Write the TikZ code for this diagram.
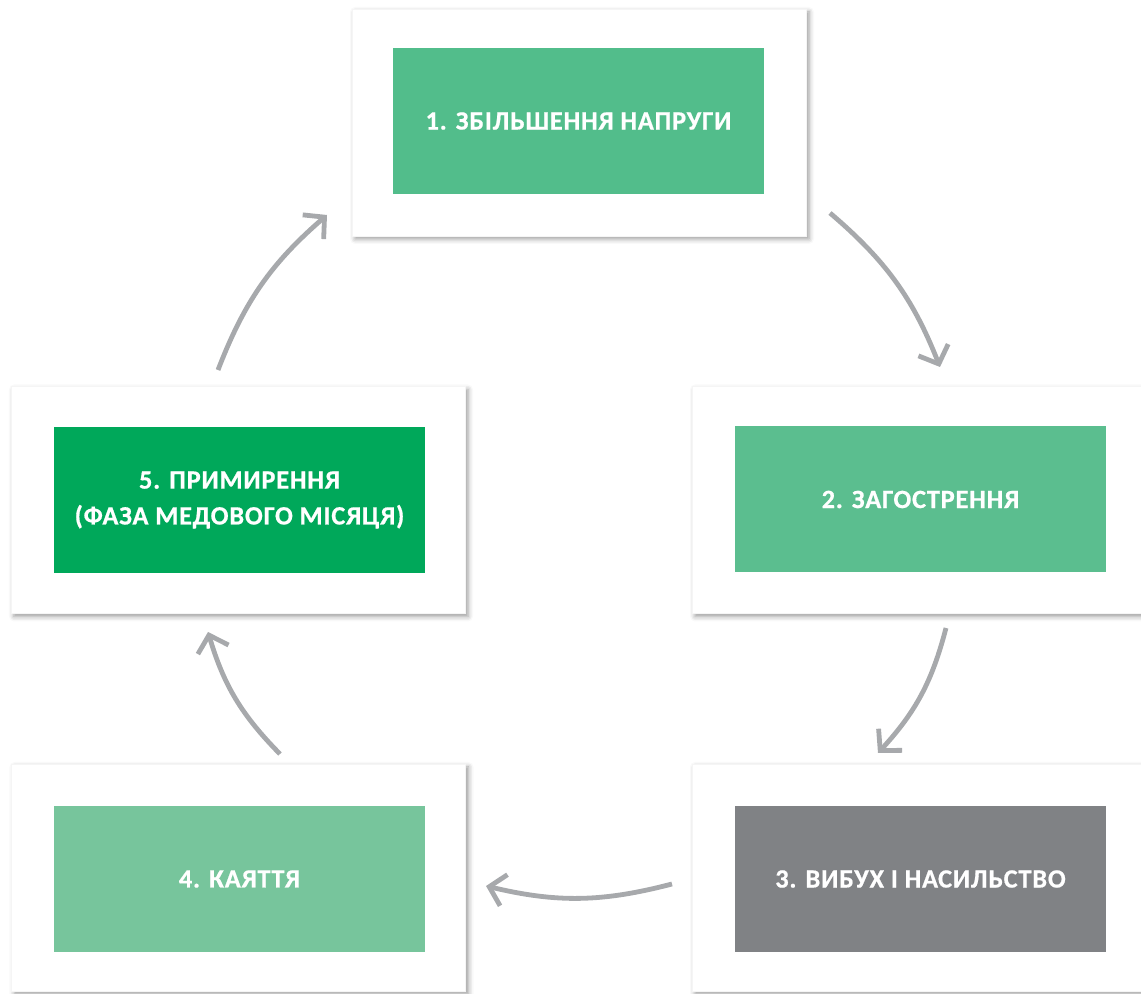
\documentclass[tikz,border=0pt]{standalone}
\usepackage{fontspec}
\newfontfamily\boxfont[LetterSpace=3,FakeBold=0.6]{Carlito}
\usetikzlibrary{arrows.meta,shadows.blur,positioning}

\definecolor{greenA}{HTML}{52BD8B}
\definecolor{greenB}{HTML}{5BBE8F}
\definecolor{greenC}{HTML}{77C59C}
\definecolor{greenD}{HTML}{00A85A}
\definecolor{greyE}{HTML}{808285}
\definecolor{arrowgrey}{HTML}{A7A9AC}

\tikzset{
  frame/.style={fill=white, draw=black!4, line width=0.6bp, minimum width=454bp, minimum height=227bp,
    blur shadow={shadow xshift=3bp, shadow yshift=-3bp, shadow blur radius=5bp, shadow opacity=40}},
  phase/.style={minimum width=371bp, minimum height=146bp, inner sep=0pt,
    text=white, align=center, font=\boxfont\bfseries\fontsize{26.5}{36}\selectfont},
  cyc/.style={draw=arrowgrey, line width=4.8bp,
    -{Straight Barb[length=15bp, width=32bp, line width=4.8bp]}, bend left=14},
}

\begin{document}
\begin{tikzpicture}[x=1bp, y=1bp]
  \useasboundingbox (0,0) rectangle (1141,994);
  \begin{scope}
    \clip (0,0) rectangle (1141,994);

    % white frames with soft shadow
    \node[frame] (f1) at (579,871.5) {};
    \node[frame] (f2) at (919,494) {};
    \node[frame] (f3) at (919,116.5) {};
    \node[frame] (f4) at (238.5,116.5) {};
    \node[frame] (f5) at (238,494) {};

    % coloured phase boxes
    \node[phase, fill=greenA] (p1) at (578.5,873) {1. ЗБІЛЬШЕННЯ НАПРУГИ};
    \node[phase, fill=greenB] (p2) at (920.5,494.5) {2. ЗАГОСТРЕННЯ};
    \node[phase, fill=greyE]  (p3) at (920.5,115) {3. ВИБУХ І НАСИЛЬСТВО};
    \node[phase, fill=greenC] (p4) at (239.5,115) {4. КАЯТТЯ};
    \node[phase, fill=greenD] (p5) at (239.5,494) {5. ПРИМИРЕННЯ\\(ФАЗА МЕДОВОГО МІСЯЦЯ)};
  \end{scope}

  % arrow ends
  \coordinate (a1s) at (830,781);  \coordinate (a1e) at (940,627);
  \coordinate (a2s) at (946,366);  \coordinate (a2e) at (878,241);
  \coordinate (a3s) at (672,110);  \coordinate (a3e) at (486,108);
  \coordinate (a4s) at (280,240);  \coordinate (a4e) at (208,362);
  \coordinate (a5s) at (218,624);  \coordinate (a5e) at (327,779);

  % the cycle
  \draw[cyc] (a1s) to (a1e);
  \draw[cyc] (a2s) to (a2e);
  \draw[cyc] (a3s) to (a3e);
  \draw[cyc] (a4s) to (a4e);
  \draw[cyc] (a5s) to (a5e);
\end{tikzpicture}
\end{document}
